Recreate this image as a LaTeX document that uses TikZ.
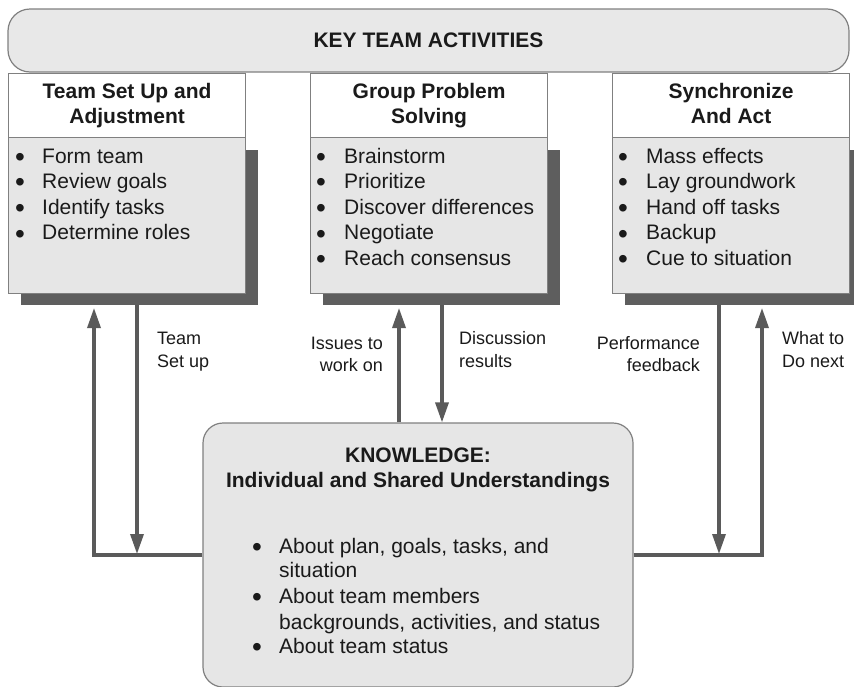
\documentclass[tikz,border=0pt]{standalone}
\usepackage{fontspec}
\setmainfont{Liberation Sans}
\usetikzlibrary{arrows.meta}
\definecolor{bodygray}{HTML}{E6E6E6}
\definecolor{bannergray}{HTML}{E8E8E8}
\definecolor{shadowgray}{HTML}{5E5E5E}
\definecolor{edgegray}{HTML}{808080}
\definecolor{arrowgray}{HTML}{5A5A5A}
\definecolor{inkgray}{HTML}{1A1A1A}
\newcommand{\bigbul}{\raisebox{-3.2pt}{\fontsize{28}{28}\selectfont\textbullet}}
\begin{document}
\begin{tikzpicture}[x=1pt,y=-1pt,
  shadowbox/.style={fill=shadowgray, draw=none, minimum width=237pt, minimum height=155pt, inner sep=0pt, anchor=north west},
  bodybox/.style={fill=bodygray, draw=edgegray, line width=1.2pt, minimum width=237pt, minimum height=156pt, inner sep=0pt, anchor=north west},
  headbox/.style={fill=white, draw=edgegray, line width=1.2pt, minimum width=237pt, minimum height=64pt, inner sep=0pt, anchor=north west, align=center, text=inkgray, font=\bfseries\fontsize{21}{25}\selectfont},
  banner/.style={fill=bannergray, draw=edgegray, line width=1.2pt, rounded corners=22pt, minimum width=841pt, minimum height=63pt, inner sep=0pt, text=inkgray, font=\bfseries\fontsize{21}{25}\selectfont},
  kbox/.style={fill=bodygray, draw=edgegray, line width=1.2pt, rounded corners=20pt, minimum width=430pt, minimum height=264pt, inner sep=0pt},
  bul/.style={anchor=base, inner sep=0pt, text=inkgray, font=\fontsize{21}{25}\selectfont},
  itm/.style={anchor=base west, inner sep=0pt, text=inkgray, font=\fontsize{21}{25}\selectfont},
  ktitle/.style={anchor=base, inner sep=0pt, text=inkgray, font=\bfseries\fontsize{21}{25}\selectfont},
  lblL/.style={anchor=base west, inner sep=0pt, text=inkgray, font=\fontsize{18}{22}\selectfont},
  lblR/.style={anchor=base east, inner sep=0pt, text=inkgray, font=\fontsize{18}{22}\selectfont},
  arr/.style={draw=arrowgray, line width=3.3pt, -{Triangle[length=20pt,width=13pt]}},
  link/.style={draw=arrowgray, line width=3.3pt}
]
\useasboundingbox (0,0) rectangle (854,686);

% shadows
\node[shadowbox] (S1) at (21,150) {};
\node[shadowbox] (S2) at (323,150) {};
\node[shadowbox] (S3) at (625,150) {};

% bodies
\node[bodybox] (B1) at (8,137) {};
\node[bodybox] (B2) at (310,137) {};
\node[bodybox] (B3) at (612,137) {};

% headers
\node[headbox] (H1) at (8,73) {Team Set Up and\\Adjustment};
\node[headbox] (H2) at (310,73) {Group Problem\\Solving};
\node[headbox] (H3) at (612,73) {Synchronize\\And Act\vphantom{g}};

% banner
\node[banner] (KTA) at (428.5,40.5) {KEY TEAM ACTIVITIES};

% items
\foreach \t [count=\i] in {Form team, Review goals, Identify tasks, Determine roles}{
  \node[bul] (LB\i) at (20,{163+25.6*(\i-1)}) {\bigbul};
  \node[itm] (LT\i) at (42,{163+25.6*(\i-1)}) {\t};
}
\foreach \t [count=\i] in {Brainstorm, Prioritize, Discover differences, Negotiate, Reach consensus}{
  \node[bul] (MB\i) at (321,{163+25.6*(\i-1)}) {\bigbul};
  \node[itm] (MT\i) at (344,{163+25.6*(\i-1)}) {\t};
}
\foreach \t [count=\i] in {Mass effects, Lay groundwork, Hand off tasks, Backup, Cue to situation}{
  \node[bul] (RB\i) at (623,{163+25.6*(\i-1)}) {\bigbul};
  \node[itm] (RT\i) at (646,{163+25.6*(\i-1)}) {\t};
}

% knowledge box
\node[kbox] (K) at (418,555) {};

% connector coordinates
\coordinate (upL) at (94,308);
\coordinate (dL) at (137,554);
\coordinate (upM) at (399,308);
\coordinate (dM) at (442,0);
\coordinate (dR) at (719,554);
\coordinate (upR) at (762,308);

% arrows
\draw[arr] (K.west) -| (upL);
\draw[arr] (S1.south -| dL) -- (dL);
\draw[arr] (K.north -| upM) -- (upM);
\draw[arr] (S2.south -| dM) -- (K.north -| dM);
\draw[arr] (S3.south -| dR) -- (dR);
\draw[arr] (K.east) -| (upR);

% knowledge text
\node[ktitle] (KT1) at (418,462) {KNOWLEDGE:};
\node[ktitle] (KT2) at (418,487) {Individual and Shared Understandings};
\node[bul] (KB1) at (257,553) {\bigbul};
\node[itm] (KI1) at (279,553) {About plan, goals, tasks, and};
\node[itm] (KI1b) at (279,577) {situation};
\node[bul] (KB2) at (257,603) {\bigbul};
\node[itm] (KI2) at (279,603) {About team members};
\node[itm] (KI2b) at (279,629) {backgrounds, activities, and status};
\node[bul] (KB3) at (257,653) {\bigbul};
\node[itm] (KI3) at (279,653) {About team status};

% labels
\node[lblL] (LA1) at (157,344) {Team};
\node[lblL] (LA2) at (157,367) {Set up};
\node[lblR] (LM1) at (383,349) {Issues to};
\node[lblR] (LM2) at (383,371) {work on};
\node[lblL] (LD1) at (459,344) {Discussion};
\node[lblL] (LD2) at (459,367) {results};
\node[lblR] (LP1) at (700,349) {Performance};
\node[lblR] (LP2) at (700,371) {feedback};
\node[lblL] (LW1) at (782,344) {What to};
\node[lblL] (LW2) at (782,367) {Do next};
\end{tikzpicture}
\end{document}
